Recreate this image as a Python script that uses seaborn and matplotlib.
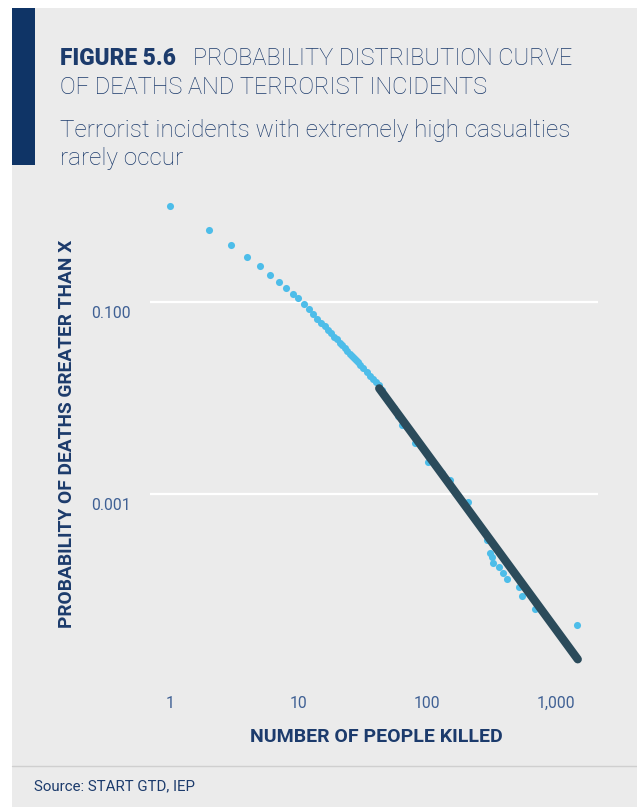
import numpy as np
import pandas as pd
import matplotlib
matplotlib.use('Agg')
import matplotlib.pyplot as plt
from matplotlib.patches import Rectangle
from matplotlib.transforms import ScaledTranslation
import seaborn as sns

# Values
deaths = [1, 2, 3, 4, 5, 6, 7, 8, 9, 10, 11, 12, 13, 14, 15, 16, 17, 18, 19, 20,
          21, 22, 23, 24, 25, 26, 27, 28, 29, 30, 32, 34, 36, 38, 40, 42, 45, 50,
          55, 60, 64, 70, 81, 90, 102, 115, 130, 151, 175, 190, 210, 250, 270,
          292, 309, 319, 328, 361, 392, 417, 520, 546, 697, 1470]
prob = [1.0, 0.56, 0.39, 0.294, 0.235, 0.192, 0.163, 0.140, 0.122, 0.109,
        0.0946, 0.0839, 0.0745, 0.067, 0.0608, 0.0566, 0.0515, 0.0478, 0.0436,
        0.0408, 0.0378, 0.0355, 0.0330, 0.0312, 0.0290, 0.0276, 0.0260, 0.0246,
        0.0235, 0.0222, 0.0203, 0.0186, 0.0171, 0.0158, 0.0146, 0.0136, 0.0121,
        0.0094, 0.0078, 0.0065, 0.0052, 0.0050, 0.0034, 0.0032, 0.00217, 0.0020,
        0.00164, 0.00140, 0.00095, 0.00082, 0.00083, 0.00050, 0.00043, 0.000332,
        0.000245, 0.000222, 0.000192, 0.000172, 0.000151, 0.000129, 0.000107,
        0.0000859, 0.0000638, 0.0000428]

# fitted power-law line (end points)
fit_deaths = [42.5, 1490]
fit_prob = [0.0126, 0.000019]

x_ticks = [1, 10, 100, 1000]
x_tick_labels = ['1', '10', '100', '1,000']
y_ticks = [0.1, 0.001]
y_tick_labels = ['0.100', '0.001']

W, H = 637, 807
BG = '#ebebeb'
NAVY = '#1c3b6c'
TICK_COL = '#3f6094'
DOT = '#4dbde9'
LINE = '#2b4b5b'

sns.set_theme(style='white')
plt.rcParams['font.family'] = ['Roboto', 'DejaVu Sans']

fig = plt.figure(figsize=(W / 100, H / 100), dpi=100)
fig.patch.set_facecolor('white')


def fx(px):
    return px / W


def fy(py):
    return 1 - py / H


# grey panel, left bar, separator
fig.add_artist(Rectangle((fx(12), 0), 1, fy(8), transform=fig.transFigure,
                         facecolor=BG, edgecolor='none', zorder=-10))
fig.add_artist(Rectangle((fx(12), fy(165)), fx(23), 157 / H, transform=fig.transFigure,
                         facecolor='#0f3466', edgecolor='none', zorder=-5))
fig.add_artist(plt.Line2D([fx(12), 1], [fy(766), fy(766)], transform=fig.transFigure,
                          color='#cfcfcf', lw=1))

# title + subtitle
fig.text(fx(60), fy(65), 'FIGURE 5.6', fontsize=16.3, fontweight='heavy', color=NAVY,
         va='baseline')
fig.text(fx(193), fy(65), 'PROBABILITY DISTRIBUTION CURVE', fontsize=17,
         fontweight='light', color=NAVY, va='baseline')
fig.text(fx(60), fy(94), 'OF DEATHS AND TERRORIST INCIDENTS', fontsize=17,
         fontweight='light', color=NAVY, va='baseline')
fig.text(fx(60), fy(137), 'Terrorist incidents with extremely high casualties',
         fontsize=17.5, fontweight='light', color=NAVY, va='baseline')
fig.text(fx(60), fy(165), 'rarely occur', fontsize=17.5, fontweight='light',
         color=NAVY, va='baseline')
fig.text(fx(34), fy(786), 'Source: START GTD, IEP', fontsize=10.8, color=NAVY,
         va='center')

# plot area
ax = fig.add_axes([fx(150), fy(675), fx(598) - fx(150), (675 - 190) / H])
ax.set_facecolor(BG)

df = pd.DataFrame({'deaths': deaths, 'prob': prob})
fit = pd.DataFrame({'deaths': fit_deaths, 'prob': fit_prob})

sns.scatterplot(data=df, x='deaths', y='prob', color=DOT, s=26, linewidth=0,
                ax=ax, zorder=3)
sns.lineplot(data=fit, x='deaths', y='prob', color=LINE, lw=6, ax=ax, zorder=4,
             solid_capstyle='round')

ax.set(xscale='log', yscale='log')
ax.set_xlim(0.699, 2142)
ax.set_ylim(1.303e-5, 1.468)
ax.minorticks_off()
ax.set_xticks(x_ticks)
ax.set_xticklabels(x_tick_labels)
ax.set_yticks(y_ticks)
ax.set_yticklabels(y_tick_labels)
ax.tick_params(axis='both', length=0, labelsize=11.3, labelcolor=TICK_COL)
ax.tick_params(axis='x', pad=15)
ax.tick_params(axis='y', pad=14)
for lab in ax.get_yticklabels():
    lab.set_transform(lab.get_transform() + ScaledTranslation(0, -10 / 100, fig.dpi_scale_trans))

ax.grid(False)
for yv in y_ticks:
    ax.axhline(yv, color='white', lw=1.6, zorder=1)
sns.despine(ax=ax, left=True, bottom=True)

ax.set_xlabel('')
ax.set_ylabel('')
fig.text(fx(376), fy(737), 'NUMBER OF PEOPLE KILLED', fontsize=14, fontweight='bold',
         color=NAVY, ha='center', va='center')
fig.text(fx(67.5), fy(434), 'PROBABILITY OF DEATHS GREATER THAN X', fontsize=13.8,
         fontweight='bold', color=NAVY, ha='center', va='center', rotation=90)

fig.savefig('out.png', dpi=100, facecolor=fig.get_facecolor())
